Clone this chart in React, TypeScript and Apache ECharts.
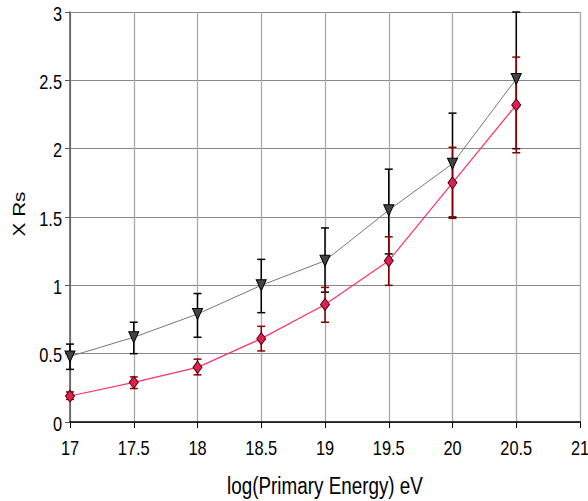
import React, { useEffect, useRef } from "react";
import * as echarts from "echarts";

// log10 of primary energy (eV)
const energies = [17, 17.5, 18, 18.5, 19, 19.5, 20, 20.5];

// upper (grey, triangles) series with its error range
const greyValues = [0.48, 0.62, 0.79, 1.0, 1.18, 1.55, 1.89, 2.51];
const greyLow = [0.385, 0.5, 0.62, 0.8, 0.95, 1.23, 1.5, 2.0];
const greyHigh = [0.57, 0.73, 0.94, 1.19, 1.42, 1.85, 2.26, 3.0];

// lower (red, diamonds) series with its error range
const redValues = [0.19, 0.29, 0.4, 0.61, 0.86, 1.18, 1.75, 2.32];
const redLow = [0.165, 0.245, 0.345, 0.52, 0.73, 1.0, 1.49, 1.97];
const redHigh = [0.22, 0.33, 0.46, 0.7, 0.985, 1.355, 2.01, 2.67];

// tick labels
const xTicks = [17, 17.5, 18, 18.5, 19, 19.5, 20, 20.5, 21];
const yTicks = [0, 0.5, 1, 1.5, 2, 2.5, 3];

const xTitle = "log(Primary Energy) eV";
const yTitle = "X Rs";

const FONT = "'Liberation Sans', Arial, sans-serif";
// tall, narrow lettering
const NARROW = 0.82;

function errorBars(low: number[], high: number[], color: string, id: string) {
  return {
    type: "custom",
    id,
    z: 3,
    data: energies.map((e, i) => [e, low[i], high[i]]),
    renderItem: (_params: any, api: any) => {
      const x = api.value(0);
      const lo = api.coord([x, api.value(1)]);
      const hi = api.coord([x, api.value(2)]);
      const cap = 4;
      const style = { stroke: color, lineWidth: 1.5 };
      return {
        type: "group",
        children: [
          { type: "line", shape: { x1: lo[0], y1: lo[1], x2: hi[0], y2: hi[1] }, style },
          { type: "line", shape: { x1: lo[0] - cap, y1: lo[1], x2: lo[0] + cap, y2: lo[1] }, style },
          { type: "line", shape: { x1: hi[0] - cap, y1: hi[1], x2: hi[0] + cap, y2: hi[1] }, style },
        ],
      };
    },
    silent: true,
  };
}

export default function App() {
  const ref = useRef<HTMLDivElement>(null);

  useEffect(() => {
    if (!ref.current) return;
    const chart = echarts.init(ref.current, undefined, { renderer: "svg" });
    chart.setOption({
      animation: false,
      backgroundColor: "#ffffff",
      grid: { left: 70, right: 8, top: 12, bottom: 79, containLabel: false },
      xAxis: {
        type: "value",
        min: 17,
        max: 21,
        interval: 0.5,
        axisLine: { show: true, onZero: false, lineStyle: { color: "#000", width: 1.5 } },
        axisTick: { show: true, inside: false, length: 6, lineStyle: { color: "#000" } },
        axisLabel: { show: false },
        splitLine: { show: true, lineStyle: { color: "#aaaaaa", width: 1.3 } },
      },
      yAxis: {
        type: "value",
        min: 0,
        max: 3,
        interval: 0.5,
        axisLine: { show: true, lineStyle: { color: "#555555", width: 1.5 } },
        axisTick: { show: true, length: 5, lineStyle: { color: "#555555" } },
        axisLabel: { show: false },
        splitLine: { show: true, lineStyle: { color: "#888888", width: 1.2 } },
      },
      series: [
        errorBars(greyLow, greyHigh, "#000000", "greyErr"),
        errorBars(redLow, redHigh, "#8b0000", "redErr"),
        {
          type: "line",
          z: 4,
          data: energies.map((e, i) => [e, greyValues[i]]),
          lineStyle: { color: "#777777", width: 1 },
          symbol: "triangle",
          symbolRotate: 180,
          symbolSize: [10, 11],
          itemStyle: { color: "#444444", borderColor: "#000000", borderWidth: 1 },
        },
        {
          type: "line",
          z: 4,
          data: energies.map((e, i) => [e, redValues[i]]),
          lineStyle: { color: "#ff3366", width: 1.2 },
          symbol: "diamond",
          symbolSize: [9, 12],
          itemStyle: { color: "#e0204f", borderColor: "#4a0010", borderWidth: 1 },
        },
      ],
    });

    // Axis labels and titles, placed through the chart's own coordinate system
    const toPx = (v: number[]) => chart.convertToPixel({ gridIndex: 0 }, v) as number[];
    const origin = toPx([17, 0]);
    const far = toPx([21, 3]);
    const labelStyle = { fontFamily: FONT, fontSize: 20, fill: "#000" };

    const graphics: any[] = [];
    xTicks.forEach((t) => {
      const p = toPx([t, 0]);
      graphics.push({
        type: "text",
        x: p[0],
        y: origin[1] + 26,
        scaleX: NARROW,
        style: { ...labelStyle, text: String(t), align: "center", verticalAlign: "middle" },
      });
    });
    yTicks.forEach((t) => {
      const p = toPx([17, t]);
      graphics.push({
        type: "text",
        x: origin[0] - 8,
        y: p[1] + 1.5,
        scaleX: NARROW,
        style: { ...labelStyle, text: String(t), align: "right", verticalAlign: "middle" },
      });
    });
    graphics.push({
      type: "text",
      x: (origin[0] + far[0]) / 2,
      y: origin[1] + 64,
      scaleX: NARROW,
      style: { fontFamily: FONT, fontSize: 23, fill: "#000", text: xTitle, align: "center", verticalAlign: "middle" },
    });
    graphics.push({
      type: "text",
      x: 19,
      y: 214,
      rotation: Math.PI / 2,
      scaleX: 1.22,
      style: { fontFamily: FONT, fontSize: 17, fill: "#000", text: yTitle, align: "center", verticalAlign: "middle" },
    });
    chart.setOption({ graphic: graphics });

    return () => chart.dispose();
  }, []);

  return <div ref={ref} style={{ width: 588, height: 501, position: "absolute", left: 0, top: 0 }} />;
}
